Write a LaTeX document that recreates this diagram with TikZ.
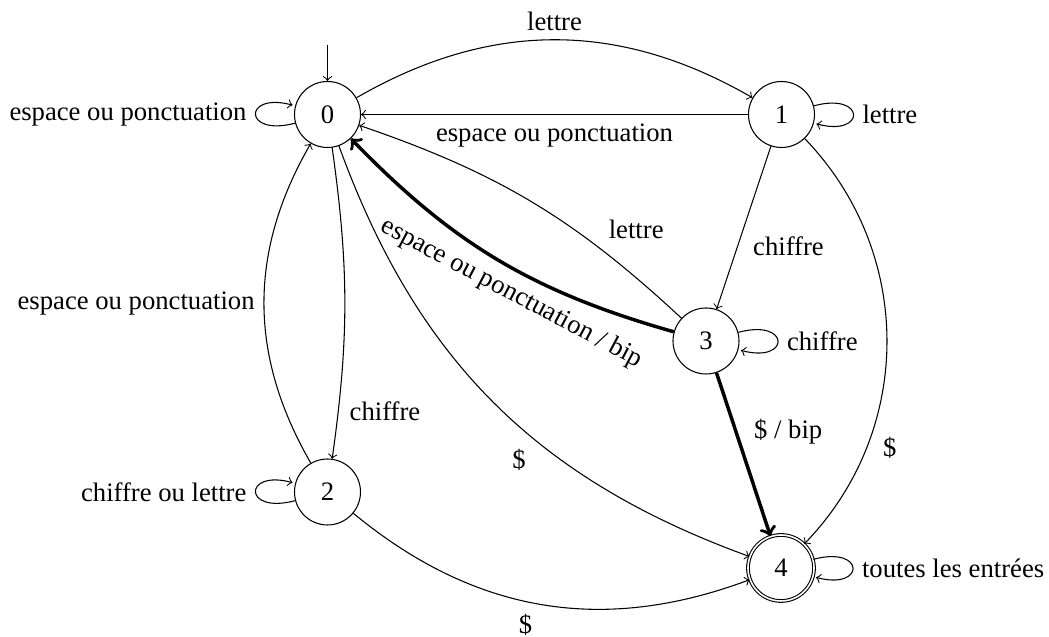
\documentclass[tikz,border=0pt]{standalone}
\usepackage{fontspec}
\setmainfont{Liberation Serif}
\usetikzlibrary{automata}
\begin{document}
\begin{tikzpicture}[x=0.375pt,y=0.375pt,>=to,
  font=\fontsize{10}{12}\selectfont,
  st/.style={circle,draw,line width=0.4pt,minimum size=24.75pt,inner sep=0pt},
  acc/.style={st,double,double distance=0.6pt},
  bold/.style={line width=1.3pt}]
\useasboundingbox (0,0) rectangle (1049,637);
\node[st] (q0) at (327.5,522.5) {0};
\node[st] (q1) at (781.5,522.5) {1};
\node[st] (q2) at (327.5,145) {2};
\node[st] (q3) at (706,296) {3};
\node[acc] (q4) at (781,69) {4};
\coordinate (init) at (327.5,592);
\draw[->] (init) -- (q0);
\draw[->] (q0) to[bend left=30] node[auto] {lettre} (q1);
\draw[->] (q1) to node[auto] {espace ou ponctuation} (q0);
\draw[->] (q1) to node[auto] {chiffre} (q3);
\draw[->] (q1) to[bend left=44] node[auto,pos=0.7] {\$} (q4);
\draw[->] (q3) to[bend right=12] node[auto,swap,pos=0.27] {lettre} (q0);
\draw[->,bold] (q3) to[bend left=15] node[below,sloped,pos=0.42] {espace ou ponctuation / bip} (q0);
\draw[->,bold] (q3) to node[auto] {\$ / bip} (q4);
\draw[->] (q0) to[bend left=8] node[auto,pos=0.8] {chiffre} (q2);
\draw[->] (q2) to[bend left=30] node[auto] {espace ou ponctuation} (q0);
\draw[->] (q0) to[bend right=25] node[auto,swap,pos=0.6] {\$} (q4);
\draw[->] (q2) to[bend right=30] node[auto,swap] {\$} (q4);
\path[->] (q0) edge[loop left] node[left] {espace ou ponctuation} ()
          (q1) edge[loop right] node[right] {lettre} ()
          (q2) edge[loop left] node[left] {chiffre ou lettre} ()
          (q3) edge[loop right] node[right] {chiffre} ()
          (q4) edge[loop right] node[right] {toutes les entrées} ();
\end{tikzpicture}
\end{document}
